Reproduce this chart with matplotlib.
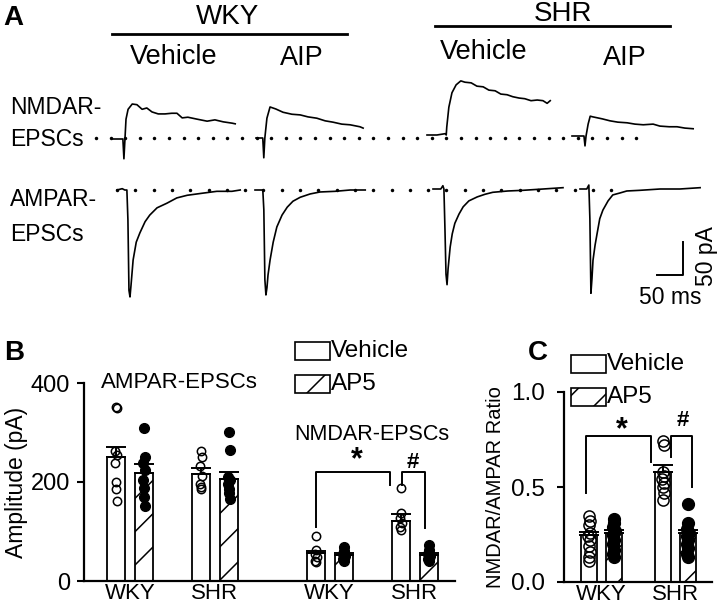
import numpy as np
import matplotlib
matplotlib.use("Agg")
import matplotlib.pyplot as plt
from matplotlib.patches import Rectangle

plt.rcParams['font.family'] = ['Liberation Sans', 'DejaVu Sans']
plt.rcParams['hatch.linewidth'] = 1.1

W, H = 720, 608
MS_PER_PX = 50 / 26.0   # from the 50 ms scale bar
PA_PER_PX = 50 / 33.0   # from the 50 pA scale bar

# ---------------- panel A: traces, time (ms) and current (pA)
nmda_wky_veh_t = [0, 19, 21, 23, 25, 29, 37, 46, 56, 65, 75, 87, 100, 113, 123, 133, 144, 162, 181, 196, 212, 229, 235]
nmda_wky_veh_i = [0, 0, -30, 0, 30, 45, 53, 52, 45, 47, 41, 38, 38, 39, 39, 32, 33, 30, 27, 29, 26, 24, 23]
nmda_wky_aip_t = [0, 13, 15, 17, 21, 27, 38, 52, 69, 85, 100, 117, 133, 148, 165, 181, 200, 206]
nmda_wky_aip_i = [0, 0, -30, 0, 30, 47, 44, 39, 36, 35, 32, 30, 26, 24, 21, 20, 17, 15]
nmda_shr_veh_t = [0, 19, 35, 37, 38, 42, 48, 56, 65, 73, 85, 96, 108, 119, 131, 142, 154, 165, 177, 188, 200, 212, 223, 231, 237]
nmda_shr_veh_i = [0, 0, 2, 0, 12, 42, 64, 76, 82, 80, 79, 74, 73, 68, 67, 62, 61, 58, 56, 55, 52, 53, 52, 48, 52]
nmda_shr_aip_t = [0, 23, 25, 27, 31, 35, 40, 58, 73, 88, 106, 121, 137, 156, 169, 187, 202, 217, 233]
nmda_shr_aip_i = [0, 0, -15, 0, 18, 30, 29, 26, 23, 21, 20, 18, 17, 18, 15, 14, 14, 12, 11]

ampa_wky_veh_t = [0, 10, 15, 19, 21, 23, 25, 27, 31, 37, 44, 54, 63, 77, 96, 115, 135, 163, 192, 221, 237]
ampa_wky_veh_i = [0, 2, 0, 0, -45, -152, -162, -144, -106, -79, -65, -48, -38, -27, -20, -12, -8, -5, -2, -2, 0]
ampa_wky_aip_t = [0, 10, 15, 17, 19, 21, 23, 25, 29, 35, 42, 52, 62, 73, 87, 106, 125, 154, 183, 212]
ampa_wky_aip_i = [0, 0, 0, -30, -136, -159, -148, -129, -106, -79, -56, -38, -26, -17, -11, -6, -3, -2, 0, 0]
ampa_shr_veh_t = [0, 15, 19, 21, 23, 25, 27, 29, 33, 37, 42, 50, 58, 69, 85, 100, 115, 144, 173, 212, 250]
ampa_shr_veh_i = [0, 0, 5, 0, -61, -129, -145, -121, -88, -68, -52, -38, -27, -18, -12, -8, -5, -3, -2, 0, 2]
ampa_shr_aip_t = [0, 13, 17, 19, 21, 23, 25, 29, 33, 38, 44, 54, 63, 77, 90, 115, 154, 192, 231]
ampa_shr_aip_i = [0, 0, 6, -45, -158, -136, -108, -85, -67, -45, -32, -18, -9, -6, -3, -2, 0, 0, 2]

# ---------------- panel B: amplitudes (pA)
b_groups = ['WKY', 'SHR', 'WKY', 'SHR']
b_veh_mean = [250, 216, 56, 121]
b_veh_sem = [20, 12, 4, 14]
b_ap5_mean = [218, 206, 52, 52]
b_ap5_sem = [18, 14, 4, 4]
b_veh_pts = [[352, 350, 262, 255, 238, 200, 185, 162],
             [262, 250, 232, 212, 195, 190, 186],
             [90, 62, 55, 48, 40, 38],
             [188, 138, 128, 118, 110, 104]]
b_ap5_pts = [[310, 250, 238, 225, 205, 188, 170, 152],
             [302, 265, 210, 205, 195, 185, 178, 165],
             [68, 60, 55, 50, 45, 40],
             [72, 62, 55, 50, 45, 40]]

# ---------------- panel C: NMDAR/AMPAR ratio
c_groups = ['WKY', 'SHR']
c_veh_mean = [0.247, 0.58]
c_veh_sem = [0.015, 0.035]
c_ap5_mean = [0.26, 0.26]
c_ap5_sem = [0.012, 0.012]
c_veh_pts = [[0.35, 0.32, 0.30, 0.26, 0.24, 0.22, 0.19, 0.16, 0.13, 0.11],
             [0.74, 0.72, 0.58, 0.56, 0.54, 0.52, 0.50, 0.47, 0.43]]
c_ap5_pts = [[0.33, 0.31, 0.29, 0.27, 0.25, 0.22, 0.20, 0.17, 0.15, 0.13],
             [0.41, 0.31, 0.28, 0.26, 0.24, 0.22, 0.20, 0.18, 0.15, 0.13]]

jitter = [0, 0.03, -0.03, 0.05, -0.05, 0.015, -0.015, 0.04, -0.04, 0.0]


def fx(x):
    return x / W


def fy(y):
    return 1 - y / H


fig = plt.figure(figsize=(W / 100, H / 100), dpi=100)

# ---- panel A: one axes over the whole figure, in ms / pA
axA = fig.add_axes([0, 0, 1, 1])
axA.set_xlim(0, W * MS_PER_PX)
axA.set_ylim(-H * PA_PER_PX, 0)
axA.axis('off')

traces = [
    (nmda_wky_veh_t, nmda_wky_veh_i, 113, 139),
    (nmda_wky_aip_t, nmda_wky_aip_i, 256, 138),
    (nmda_shr_veh_t, nmda_shr_veh_i, 427, 135),
    (nmda_shr_aip_t, nmda_shr_aip_i, 572, 136),
    (ampa_wky_veh_t, ampa_wky_veh_i, 117, 190),
    (ampa_wky_aip_t, ampa_wky_aip_i, 255, 190),
    (ampa_shr_veh_t, ampa_shr_veh_i, 433, 189),
    (ampa_shr_aip_t, ampa_shr_aip_i, 580, 189),
]
for t, i, px0, py0 in traces:
    axA.plot(px0 * MS_PER_PX + np.array(t), -py0 * PA_PER_PX + np.array(i),
             color='black', lw=1.2)

# dotted baselines
for x0, x1, step, y in [(96, 650, 14.6, 138), (117, 622, 18.3, 190)]:
    xs = np.arange(x0, x1, step) * MS_PER_PX
    axA.plot(xs, np.full(len(xs), -y * PA_PER_PX), 'o', color='black', ms=2.5, mew=0)

# scale bar, 50 ms x 50 pA
sx, sy = 683 * MS_PER_PX, -275 * PA_PER_PX
axA.plot([sx - 50, sx, sx], [sy, sy, sy + 50], color='black', lw=1.4)
fig.text(fx(707), fy(256), '50 pA', rotation=90, ha='center', va='center', fontsize=16.5)
fig.text(fx(670), fy(298), '50 ms', ha='center', va='center', fontsize=16.5)

fig.text(fx(13), fy(18), 'A', ha='center', va='center', fontsize=20, fontweight='bold')
fig.text(fx(228), fy(17), 'WKY', ha='center', va='center', fontsize=20)
fig.text(fx(563), fy(14), 'SHR', ha='center', va='center', fontsize=20)
fig.add_artist(plt.Line2D([fx(112), fx(347)], [fy(34), fy(34)], color='black', lw=2))
fig.add_artist(plt.Line2D([fx(435), fx(670)], [fy(26), fy(26)], color='black', lw=2))
for x, y, s in [(174, 57, 'Vehicle'), (302, 58, 'AIP'), (484, 52, 'Vehicle'), (625, 58, 'AIP')]:
    fig.text(fx(x), fy(y), s, ha='center', va='center', fontsize=19.5)
for y, s in [(107, 'NMDAR-'), (140, 'EPSCs'), (200, 'AMPAR-'), (234, 'EPSCs')]:
    fig.text(fx(10), fy(y), s, ha='left', va='center', fontsize=16.5)


def style_axes(ax, ticksize, tickpad):
    for s in ['top', 'right']:
        ax.spines[s].set_visible(False)
    for s in ['left', 'bottom']:
        ax.spines[s].set_linewidth(1.6)
    ax.tick_params(axis='y', length=5, width=1.5, pad=tickpad, labelsize=ticksize)
    ax.tick_params(axis='x', length=0, pad=1.5, labelsize=16)


def draw_bars(ax, pos, off, wid, veh_m, veh_s, ap_m, ap_s, veh_p, ap_p, ms_open, ms_fill):
    pos = np.array(pos)
    xv, xa = pos - off, pos + off
    ax.bar(xv, veh_m, width=wid, color='white', edgecolor='black', lw=1.3, zorder=2)
    ax.bar(xa, ap_m, width=wid, color='white', edgecolor='black', lw=1.3, hatch='/', zorder=2)
    ax.errorbar(xv, veh_m, yerr=[np.zeros(len(veh_m)), veh_s], fmt='none', ecolor='black',
                elinewidth=1.4, capsize=7, capthick=1.4, zorder=4)
    ax.errorbar(xa, ap_m, yerr=[np.zeros(len(ap_m)), ap_s], fmt='none', ecolor='black',
                elinewidth=1.4, capsize=7, capthick=1.4, zorder=4)
    for k in range(len(pos)):
        jv = jitter[:len(veh_p[k])]
        ja = jitter[:len(ap_p[k])]
        ax.plot(xv[k] + np.array(jv) * wid, veh_p[k], 'o', mfc='none', mec='black',
                ms=ms_open, mew=1.1, zorder=3)
        ax.plot(xa[k] + np.array(ja) * wid, ap_p[k], 'o', mfc='black', mec='black',
                ms=ms_fill, zorder=3)
    return xv, xa


# ---- panel B
b_left, b_right, b_bot, b_top = 84, 455, 581, 383
unit = 85.0
b_pos = [0, 1, 2.35, 3.35]
axB = fig.add_axes([fx(b_left), fy(b_bot), (b_right - b_left) / W, (b_bot - b_top) / H])
axB.set_xlim((b_left - 130) / unit, (b_right - 130) / unit)
axB.set_ylim(0, 400)
axB.set_yticks([0, 200, 400])
axB.set_xticks(b_pos)
axB.set_xticklabels(b_groups)
style_axes(axB, 17, 5)
xv, xa = draw_bars(axB, b_pos, 0.165, 0.21, b_veh_mean, b_veh_sem, b_ap5_mean, b_ap5_sem,
                   b_veh_pts, b_ap5_pts, 6, 7)
axB.set_ylabel('Amplitude (pA)', fontsize=16.5)
axB.yaxis.set_label_coords(-0.15, 0.5)
axB.plot([xv[2], xv[2], xv[3] - 0.125, xv[3] - 0.125], [109, 220, 220, 194],
         color='black', lw=1.4, clip_on=False)
axB.plot([xv[3] + 0.015, xv[3] + 0.015, xa[3] - 0.045, xa[3] - 0.045], [194, 220, 220, 107],
         color='black', lw=1.4, clip_on=False)
axB.text(2.67, 243, '*', ha='center', va='center', fontsize=22, fontweight='bold')
axB.text(3.33, 240, '#', ha='center', va='center', fontsize=16, fontweight='bold')
axB.text((179 - 130) / unit, 400, 'AMPAR-EPSCs', ha='center', va='center', fontsize=16)
axB.text((372 - 130) / unit, (581 - 435) / 198 * 400, 'NMDAR-EPSCs', ha='center', va='center',
         fontsize=15.5)
fig.text(fx(14), fy(353), 'B', ha='center', va='center', fontsize=20, fontweight='bold')

# ---- panel C
c_left, c_right, c_bot, c_top = 564, 712, 582, 392
c_unit = 74.0
c_pos = [0, 1]
axC = fig.add_axes([fx(c_left), fy(c_bot), (c_right - c_left) / W, (c_bot - c_top) / H])
axC.set_xlim((c_left - 601.5) / c_unit, (c_right - 601.5) / c_unit)
axC.set_ylim(0, 1.0)
axC.set_yticks([0, 0.5, 1.0])
axC.set_yticklabels(['0.0', '0.5', '1.0'])
axC.set_xticks(c_pos)
axC.set_xticklabels(c_groups)
style_axes(axC, 17.5, 9)
cxv, cxa = draw_bars(axC, c_pos, 0.165, 0.216, c_veh_mean, c_veh_sem, c_ap5_mean, c_ap5_sem,
                     c_veh_pts, c_ap5_pts, 8, 8.5)
axC.set_ylabel('NMDAR/AMPAR Ratio', fontsize=14.5)
axC.plot([cxv[0] - 0.05, cxv[0] - 0.05, cxv[1] - 0.16, cxv[1] - 0.16], [0.47, 0.77, 0.77, 0.63],
         color='black', lw=1.4, clip_on=False)
axC.plot([cxv[1] + 0.11, cxv[1] + 0.11, cxa[1] + 0.06, cxa[1] + 0.06], [0.66, 0.77, 0.77, 0.50],
         color='black', lw=1.4, clip_on=False)
axC.text(0.28, 0.80, '*', ha='center', va='center', fontsize=22, fontweight='bold')
axC.text(1.095, 0.85, '#', ha='center', va='center', fontsize=16, fontweight='bold')
fig.text(fx(538), fy(353), 'C', ha='center', va='center', fontsize=20, fontweight='bold')

# ---- legends
for bx, by in [(295, 342), (571, 355)]:
    fig.add_artist(Rectangle((fx(bx), fy(by + 18)), 35 / W, 18 / H, transform=fig.transFigure,
                             facecolor='white', edgecolor='black', lw=1.2))
    fig.add_artist(Rectangle((fx(bx), fy(by + 51)), 35 / W, 18 / H, transform=fig.transFigure,
                             facecolor='white', edgecolor='black', lw=1.2, hatch='/'))
    fig.text(fx(bx + 36), fy(by + 9), 'Vehicle', ha='left', va='center', fontsize=17.5)
    fig.text(fx(bx + 36), fy(by + 42), 'AP5', ha='left', va='center', fontsize=17.5)

fig.savefig('out.png', dpi=100)
